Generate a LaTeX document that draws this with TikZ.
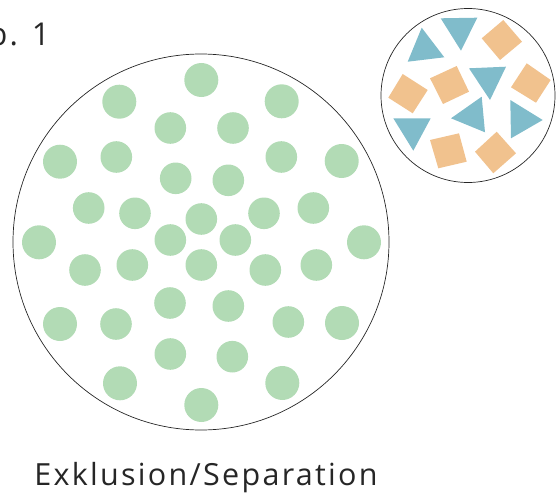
\documentclass[tikz,border=0pt]{standalone}
\usepackage{fontspec}
\setmainfont{Open Sans}
\definecolor{dotgreen}{HTML}{B2DBB5}
\definecolor{triblue}{HTML}{80BCCB}
\definecolor{sqorange}{HTML}{F1C28E}
\begin{document}
\begin{tikzpicture}[x=1pt,y=-1pt,
  dotbig/.style={fill=dotgreen},
  tri/.style={fill=triblue},
  sq/.style={fill=sqorange},
  ring/.style={draw=black!85,line width=0.7pt}]
\useasboundingbox (0,0) rectangle (557,495);
\clip (0,0) rectangle (557,495);
% big circle
\node[ring,circle,minimum size=376pt,inner sep=0pt] (big) at (201,242) {};
% dots, outer (r=17)
\foreach \x/\y in {201.3/80,119.3/101.7,281.7/101.3,60/161.7,341.7/161,39/242.3,364/242.3,60/324,342/323,120/383.3,282.3/383,201.3/405}
  \fill[dotbig] (\x,\y) circle (17pt);
% dots, inner (r=16)
\foreach \x/\y in {170.3/128,233/128,116.3/157,281.3/157,175.7/178.3,228.3/180.3,88.7/208,135/213.3,201.3/219,264/213.3,313.3/208,170.3/240,235.3/240,85/270,132.3/265,201.3/265,265.3/270,316.3/265,170/303,228.3/306,116/324,288.3/322,170.3/354,232.3/356.7}
  \fill[dotbig] (\x,\y) circle (15.8pt);
% small circle
\node[ring,circle,minimum size=174pt,inner sep=0pt] (small) at (468,95.5) {};
% triangles
\fill[tri] (421.7,27.7) -- (444.3,57.3) -- (407.7,61.7) -- cycle;
\fill[tri] (440.7,18.3) -- (477.3,17.7) -- (461,50.7) -- cycle;
\fill[tri] (469,68.3) -- (506,66.7) -- (490,100) -- cycle;
\fill[tri] (481.7,96.7) -- (485,132.3) -- (451,118.3) -- cycle;
\fill[tri] (510.3,100) -- (542.7,120) -- (511,138.3) -- cycle;
\fill[tri] (393.3,118.3) -- (430.7,118.3) -- (413.3,150.7) -- cycle;
% squares
\fill[sq] (503.3,20) -- (522,41.7) -- (500,60) -- (481.7,38.3) -- cycle;
\fill[sq] (430,78.3) -- (456.7,66) -- (469,91.7) -- (443,104) -- cycle;
\fill[sq] (402.7,74) -- (427.7,90) -- (412.7,113.3) -- (388.3,97.7) -- cycle;
\fill[sq] (526.7,63.3) -- (550.7,80) -- (536,102.7) -- (511,87.3) -- cycle;
\fill[sq] (430,140) -- (459,133.3) -- (466.7,161.7) -- (438.3,168.3) -- cycle;
\fill[sq] (475,151.7) -- (496.7,131.7) -- (516,153.3) -- (493.3,173.3) -- cycle;
% texts
\node[anchor=base west,inner sep=0pt,text=black!85] (title) at (-12,45.4) {\addfontfeatures{LetterSpace=7}\fontsize{31.5pt}{36pt}\selectfont b. 1};
\node[anchor=base,inner sep=0pt,text=black!85] (caption) at (206,485.5) {\addfontfeatures{LetterSpace=7.5}\fontsize{30.5pt}{34pt}\selectfont Exklusion/Separation};
\end{tikzpicture}
\end{document}
